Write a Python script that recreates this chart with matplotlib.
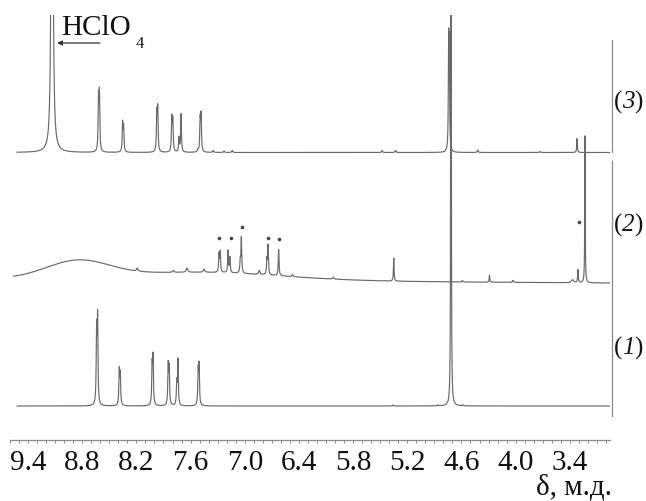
import numpy as np
import matplotlib
matplotlib.use("Agg")
import matplotlib.pyplot as plt
from matplotlib.ticker import FixedLocator, MultipleLocator

plt.rcParams['font.family'] = ['Liberation Serif', 'DejaVu Serif']

# ---- spectrum (1): peak positions (ppm), intensities, half-widths (ppm)
s1_pos = [8.641, 8.630, 8.390, 8.379, 8.026, 8.016, 7.848, 7.837, 7.753, 7.740,
          7.516, 7.506, 5.36, 4.86, 4.716, 4.59]
s1_amp = [72, 84, 34, 30, 38, 46, 39, 36, 22, 45, 33, 38, 1, 1, 4000, 1]
s1_wid = [0.005, 0.005, 0.005, 0.005, 0.005, 0.005, 0.005, 0.005, 0.005, 0.005,
          0.005, 0.005, 0.005, 0.005, 0.0012, 0.005]
s1_offset = 34

# ---- spectrum (2)
s2_pos = [8.19, 7.79, 7.64, 7.45, 7.285, 7.272, 7.185, 7.165, 7.050, 7.038,
          6.84, 6.755, 6.742, 6.625, 6.47, 6.02, 5.35, 4.59, 4.29, 4.03,
          3.37, 3.31, 3.232]
s2_amp = [3, 2, 4, 3, 18, 20, 22, 15, 12, 35, 4, 15, 29, 26, 2, 2, 23, 1.5, 7, 2,
          3, 13, 147]
s2_wid = [0.008, 0.008, 0.01, 0.01, 0.005, 0.005, 0.005, 0.005, 0.005, 0.005,
          0.008, 0.005, 0.005, 0.005, 0.008, 0.008, 0.004, 0.006, 0.004, 0.006,
          0.014, 0.004, 0.003]
s2_base_ends = [161, 157]            # baseline level at 9.56 and 2.96 ppm
s2_hump_pos = [8.85, 7.5]            # broad background humps
s2_hump_amp = [17, 8]
s2_hump_sig = [0.35, 0.9]
s2_mark_pos = [7.285, 7.15, 7.03, 6.74, 6.62, 3.30]   # marked signals
s2_mark_y = [202, 202, 213, 202, 201, 218]

# ---- spectrum (3)
s3_pos = [9.134, 8.620, 8.610, 8.353, 8.342, 7.974, 7.964, 7.808, 7.797, 7.728,
          7.706, 7.52, 7.494, 7.484, 7.35, 7.23, 7.14, 5.48, 5.33, 4.742, 4.735,
          4.42, 3.73, 3.32]
s3_amp = [1650, 50, 55, 28, 24, 37, 41, 33, 30, 14, 38, 2, 31, 35, 2, 1.5, 2, 2, 2,
          100, 95, 2.5, 1, 14]
s3_wid = [0.005, 0.005, 0.005, 0.005, 0.005, 0.005, 0.005, 0.005, 0.005, 0.005,
          0.005, 0.006, 0.005, 0.005, 0.006, 0.006, 0.006, 0.006, 0.006, 0.004, 0.004,
          0.006, 0.006, 0.004]
s3_offset = 287.5

tick_values = [9.4, 8.8, 8.2, 7.6, 7.0, 6.4, 5.8, 5.2, 4.6, 4.0, 3.4]
trace_labels = ['3', '2', '1']


def lorentz_sum(x, pos, amp, wid):
    y = np.zeros_like(x)
    for p, a, w in zip(pos, amp, wid):
        y += a / (1.0 + ((x - p) / w) ** 2)
    return y


W, H = 646, 501
fig = plt.figure(figsize=(W / 100, H / 100), dpi=100)
ax = fig.add_axes([10 / W, 61 / H, 600 / W, 425 / H])
ax.set_xlim(9.6, 2.955)
ax.set_ylim(0, 425)

line_kw = dict(color='#6a6a6a', lw=0.85)

x13 = np.linspace(9.52, 2.96, 40000)
x2 = np.linspace(9.56, 2.96, 40000)

y1 = s1_offset + lorentz_sum(x13, s1_pos, s1_amp, s1_wid)
ax.plot(x13, y1, **line_kw)

base2 = np.interp(x2, [2.96, 9.56], [s2_base_ends[1], s2_base_ends[0]])
for c, a, s in zip(s2_hump_pos, s2_hump_amp, s2_hump_sig):
    base2 = base2 + a * np.exp(-(x2 - c) ** 2 / (2 * s ** 2))
y2 = base2 + lorentz_sum(x2, s2_pos, s2_amp, s2_wid)
ax.plot(x2, y2, **line_kw)
ax.scatter(s2_mark_pos, s2_mark_y, s=2.5, color='#444444', zorder=3)

y3 = s3_offset + lorentz_sum(x13, s3_pos, s3_amp, s3_wid)
ax.plot(x13, y3, **line_kw)

# right-hand frame segments
ax.plot([2.933, 2.933], [400, 288], color='#8a8a8a', lw=0.9, clip_on=False)
ax.plot([2.933, 2.933], [279, 24], color='#8a8a8a', lw=0.9, clip_on=False)

# HClO4 marker
ax.annotate('', xy=(9.079, 397), xytext=(8.603, 397),
            arrowprops=dict(arrowstyle='-|>', color='#333333', lw=0.9,
                            mutation_scale=7, shrinkA=0, shrinkB=0))
fig.text(61 / W, 1 - 35 / H, 'HClO', fontsize=21, va='baseline', ha='left', color='#111111')
fig.text(136 / W, 1 - 48 / H, '4', fontsize=12, va='baseline', ha='left', color='#111111')

# trace numbers: upright parentheses, italic digit
for lab, yc in zip(trace_labels, [102, 225, 348]):
    yf = 1 - yc / H
    fig.text(614 / W, yf, '(', fontsize=18, va='center', ha='left', color='#111111')
    fig.text(622 / W, yf, lab, fontsize=18, style='italic', va='center', ha='left',
             color='#111111')
    fig.text(634 / W, yf, ')', fontsize=18, va='center', ha='left', color='#111111')

# axis
for side in ['top', 'left', 'right']:
    ax.spines[side].set_visible(False)
ax.spines['bottom'].set_color('#8a8a8a')
ax.spines['bottom'].set_linewidth(0.9)
ax.yaxis.set_visible(False)
ax.xaxis.set_major_locator(FixedLocator(tick_values))
ax.xaxis.set_minor_locator(MultipleLocator(0.1))
ax.set_xticklabels([f'{v:.1f}' for v in tick_values])
ax.tick_params(axis='x', which='both', direction='out', color='#8a8a8a',
               length=2.2, width=0.7, labelsize=21, pad=5, labelcolor='#111111')
ax.patch.set_alpha(0)

fig.text(612 / W, 1 - 495 / H, 'δ, м.д.', fontsize=21, ha='right', va='baseline',
         color='#111111')

fig.savefig('out.png', dpi=100)
